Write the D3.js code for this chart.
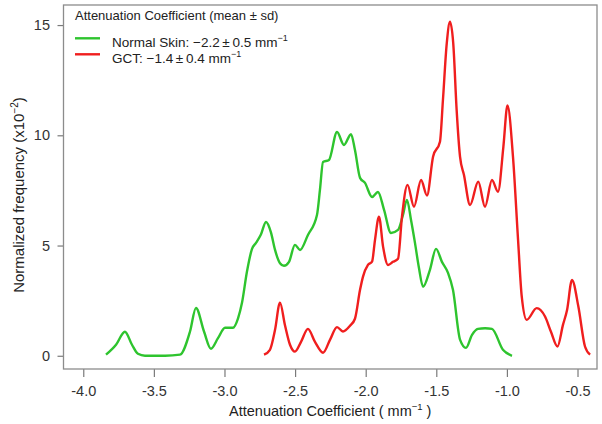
<!DOCTYPE html>
<html lang="en">
  <head>
    <meta charset="utf-8" />
    <title>Attenuation Coefficient histogram</title>
    <style>
      body {
        margin: 0;
        background: #fff;
      }
      svg {
        display: block;
        font-family: "Liberation Sans", Arial, sans-serif;
      }
      .axis .domain {
        display: none;
      }
      .axis line {
        stroke: #7a7a7a;
        stroke-width: 1.2px;
      }
      .axis text {
        fill: #333;
        font-size: 14.5px;
      }
      .frame {
        fill: none;
        stroke: #8c8c8c;
        stroke-width: 1.3px;
      }
      .curve {
        fill: none;
        stroke-width: 2.4px;
        stroke-linejoin: round;
      }
    </style>
  </head>
  <body>
    <svg width="602" height="424"></svg>

    <script src="https://cdnjs.cloudflare.com/ajax/libs/d3/7.8.5/d3.min.js"></script>
    <script>
      // normal skin (green) density
      const normalX = [
        -3.839, -3.768, -3.705, -3.655, -3.613, -3.563, -3.421, -3.315, -3.244,
        -3.202, -3.145, -3.096, -3.046, -2.996, -2.94, -2.904, -2.876, -2.841,
        -2.805, -2.777, -2.742, -2.706, -2.671, -2.642, -2.607, -2.579, -2.543,
        -2.501, -2.465, -2.409, -2.345, -2.324, -2.302, -2.26, -2.203, -2.154,
        -2.104, -2.076, -2.04, -2.005, -1.955, -1.913, -1.87, -1.821, -1.771,
        -1.736, -1.708, -1.679, -1.651, -1.623, -1.594, -1.545, -1.502, -1.46,
        -1.417, -1.382, -1.332, -1.29, -1.247, -1.205, -1.155, -1.106, -1.028,
        -0.964
      ];
      const normalY = [
        0.05, 0.5, 1.09, 0.5, 0.09, 0, 0, 0.05, 1.1, 2.17, 1.1, 0.32, 0.8, 1.27,
        1.27, 1.7, 2.4, 3.81, 4.85, 5.12, 5.5, 6.07, 5.6, 4.8, 4.2, 4.08, 4.26,
        5.03, 4.8, 5.48, 6.39, 7.52, 8.79, 8.88, 10.15, 9.56, 10.05, 9.33, 8.07,
        7.84, 7.2, 7.43, 6.62, 5.57, 5.71, 6.39, 7.07, 6.16, 5.12, 3.99, 3.13,
        3.9, 4.85, 4.26, 3.76, 2.99, 0.73, 0.36, 0.95, 1.22, 1.25, 1.22, 0.27, 0
      ];

      // GCT (red) density
      const gctX = [
        -2.72, -2.678, -2.642, -2.607, -2.572, -2.536, -2.501, -2.458, -2.409,
        -2.359, -2.302, -2.253, -2.203, -2.161, -2.111, -2.076, -2.04, -2.019,
        -1.984, -1.955, -1.934, -1.906, -1.877, -1.842, -1.807, -1.771, -1.743,
        -1.704, -1.658, -1.608, -1.566, -1.523, -1.474, -1.453, -1.426, -1.403,
        -1.38, -1.356, -1.332, -1.304, -1.261, -1.203, -1.155, -1.106, -1.063,
        -1.025, -0.996, -0.957, -0.921, -0.895, -0.86, -0.789, -0.73, -0.688,
        -0.642, -0.603, -0.574, -0.539, -0.494, -0.447, -0.411
      ];
      const gctY = [
        0.05, 0.27, 1.18, 2.41, 1.4, 0.5, 0.19, 0.63, 1.22, 0.63, 0.14, 0.72,
        1.3, 1.1, 1.36, 1.68, 2.99, 3.59, 4.12, 4.27, 5.26, 6.31, 4.95, 4.12,
        4.26, 4.4, 6.31, 7.75, 6.76, 7.97, 7.27, 9.03, 9.71, 11.6, 14.17, 15.15,
        14.17, 11.15, 9.03, 8.2, 6.84, 7.9, 6.76, 7.97, 7.44, 9.48, 11.35, 9.03,
        5.26, 2.69, 1.63, 2.16, 1.78, 1.09, 0.42, 1.4, 2.08, 3.44, 2.23, 0.42,
        0.05
      ];

      const xTicks = [-4.0, -3.5, -3.0, -2.5, -2.0, -1.5, -1.0, -0.5];
      const yTicks = [0, 5, 10, 15];
      const seriesNames = ["Normal Skin", "GCT"];
      const seriesColors = ["#2ec42e", "#f01e1e"];
      const seriesStats = ["\u22122.2\u2009\u00b1\u20090.5", "\u22121.4\u2009\u00b1\u20090.4"];

      const svg = d3.select("svg");
      const plotLeft = 63.5,
        plotRight = 597,
        plotTop = 5,
        plotBottom = 369;

      const x = d3.scaleLinear().domain([-4.14, -0.362]).range([plotLeft, plotRight]);
      const y = d3.scaleLinear().domain([-0.6, 15.91]).range([plotBottom, plotTop]);

      svg
        .append("g")
        .attr("class", "axis")
        .attr("transform", `translate(0,${plotBottom})`)
        .call(
          d3
            .axisBottom(x)
            .tickValues(xTicks)
            .tickSize(8)
            .tickSizeOuter(0)
            .tickPadding(9)
            .tickFormat((d) => d.toFixed(1))
        );

      svg
        .append("g")
        .attr("class", "axis")
        .attr("transform", `translate(${plotLeft},0)`)
        .call(
          d3
            .axisLeft(y)
            .tickValues(yTicks)
            .tickSize(6)
            .tickSizeOuter(0)
            .tickPadding(7.5)
        );

      svg
        .append("rect")
        .attr("class", "frame")
        .attr("x", plotLeft)
        .attr("y", plotTop)
        .attr("width", plotRight - plotLeft)
        .attr("height", plotBottom - plotTop);

      const line = d3
        .line()
        .x((d) => x(d[0]))
        .y((d) => y(d[1]))
        .curve(d3.curveMonotoneX);

      const series = [d3.zip(normalX, normalY), d3.zip(gctX, gctY)];

      svg
        .append("g")
        .selectAll("path")
        .data(series)
        .join("path")
        .attr("class", "curve")
        .attr("stroke", (d, i) => seriesColors[i])
        .attr("d", line);

      // axis titles
      const xt = svg
        .append("text")
        .attr("x", (plotLeft + plotRight) / 2)
        .attr("y", 416)
        .attr("text-anchor", "middle")
        .attr("fill", "#222")
        .attr("font-size", 14.5);
      xt.append("tspan").text("Attenuation Coefficient ( mm");
      xt.append("tspan").attr("dy", -6).attr("font-size", 9.5).text("\u22121");
      xt.append("tspan").attr("dy", 6).text(" )");

      const yt = svg
        .append("text")
        .attr("transform", "translate(23.5,195) rotate(-90)")
        .attr("text-anchor", "middle")
        .attr("fill", "#222")
        .attr("font-size", 15);
      yt.append("tspan").text("Normalized frequency (x10");
      yt.append("tspan").attr("dy", -6).attr("font-size", 10).text("\u22122");
      yt.append("tspan").attr("dy", 6).text(")");

      // legend
      const legend = svg.append("g").attr("fill", "#222");
      legend
        .append("text")
        .attr("x", 75)
        .attr("y", 19.5)
        .attr("font-size", 13)
        .text("Attenuation Coefficient (mean \u00b1 sd)");

      const rows = legend
        .selectAll("g.row")
        .data(seriesNames)
        .join("g")
        .attr("class", "row")
        .attr("transform", (d, i) => `translate(0,${i * 16})`);

      rows
        .append("line")
        .attr("x1", 75)
        .attr("x2", 100)
        .attr("y1", 38.3)
        .attr("y2", 38.3)
        .attr("stroke", (d, i) => seriesColors[i])
        .attr("stroke-width", 2.4);

      const rowText = rows
        .append("text")
        .attr("x", 112)
        .attr("y", 46.7)
        .attr("font-size", 13.5);
      rowText.append("tspan").text((d, i) => `${d}: ${seriesStats[i]} mm`);
      rowText
        .append("tspan")
        .attr("dy", -6)
        .attr("font-size", 9)
        .text("\u22121");
    </script>
  </body>
</html>
